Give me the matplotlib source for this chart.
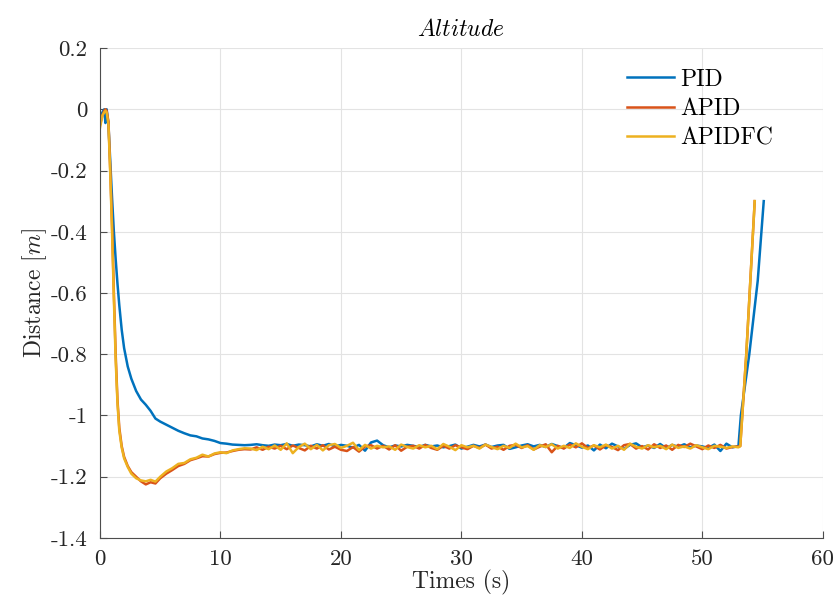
import numpy as np
import matplotlib
matplotlib.use("Agg")
import matplotlib.pyplot as plt
from matplotlib.ticker import FuncFormatter

plt.rcParams['font.family'] = ['cmr10', 'DejaVu Serif']
plt.rcParams['mathtext.fontset'] = 'cm'
plt.rcParams['axes.unicode_minus'] = False
plt.rcParams['axes.formatter.use_mathtext'] = True

# ---------------- data ----------------
# transient part (shared sample times)
t_head = [0, 0.2, 0.35, 0.45, 0.55, 0.7, 0.85, 1.0, 1.15, 1.3, 1.45, 1.6, 1.8,
          2.0, 2.3, 2.6, 3.0, 3.4, 3.8, 4.2, 4.6, 5.0, 5.5, 6.0, 6.5, 7.0,
          7.5, 8.0, 8.5, 9.0, 9.5, 10.0, 10.5, 11.0, 11.5, 12.0]

pid_head = [-0.03, -0.01, 0.0, -0.045, 0.0, -0.05, -0.17, -0.29, -0.40, -0.49,
            -0.57, -0.64, -0.72, -0.78, -0.84, -0.88, -0.92, -0.948, -0.965,
            -0.985, -1.01, -1.02, -1.03, -1.04, -1.05, -1.058, -1.065, -1.068,
            -1.075, -1.078, -1.083, -1.09, -1.092, -1.095, -1.096, -1.097]

apid_head = [-0.05, -0.02, -0.005, 0.0, -0.005, -0.04, -0.20, -0.38, -0.60, -0.80,
             -0.95, -1.04, -1.10, -1.135, -1.165, -1.185, -1.20, -1.215, -1.225,
             -1.218, -1.222, -1.205, -1.19, -1.178, -1.165, -1.158, -1.146, -1.14,
             -1.133, -1.134, -1.126, -1.122, -1.121, -1.116, -1.112, -1.11]

apidfc_head = [-0.06, -0.02, -0.01, -0.005, -0.01, -0.05, -0.21, -0.40, -0.62, -0.82,
               -0.96, -1.05, -1.105, -1.14, -1.168, -1.19, -1.205, -1.212, -1.215,
               -1.21, -1.216, -1.20, -1.183, -1.172, -1.158, -1.155, -1.143, -1.138,
               -1.128, -1.134, -1.124, -1.12, -1.123, -1.114, -1.11, -1.107]

# steady part: samples every 0.5 s from 12.5 s to 53.0 s
t_plateau = np.arange(12.5, 53.01, 0.5)

pid_plateau = [
    -1.096, -1.094, -1.097, -1.099, -1.095, -1.097, -1.093, -1.099, -1.095, -1.097,
    -1.101, -1.094, -1.099, -1.093, -1.101, -1.096, -1.099, -1.105, -1.096, -1.115,
    -1.088, -1.082, -1.097, -1.104, -1.098, -1.101, -1.096, -1.099, -1.103, -1.096,
    -1.101, -1.098, -1.104, -1.100, -1.095, -1.108, -1.102, -1.096, -1.101, -1.095,
    -1.103, -1.098, -1.096, -1.109, -1.104, -1.098, -1.094, -1.101, -1.096, -1.103,
    -1.093, -1.100, -1.106, -1.090, -1.097, -1.105, -1.098, -1.114, -1.095, -1.107,
    -1.092, -1.101, -1.109, -1.096, -1.091, -1.104, -1.098, -1.106, -1.093, -1.107,
    -1.096, -1.102, -1.094, -1.104, -1.098, -1.101, -1.106, -1.095, -1.116, -1.092,
    -1.104, -1.100]

apid_plateau = [
    -1.111, -1.104, -1.112, -1.102, -1.108, -1.099, -1.110, -1.098, -1.106, -1.114,
    -1.099, -1.108, -1.097, -1.111, -1.102, -1.112, -1.116, -1.103, -1.118, -1.101,
    -1.097, -1.108, -1.099, -1.111, -1.097, -1.115, -1.102, -1.099, -1.108, -1.096,
    -1.106, -1.112, -1.099, -1.108, -1.097, -1.104, -1.110, -1.099, -1.106, -1.095,
    -1.108, -1.102, -1.112, -1.099, -1.096, -1.106, -1.097, -1.111, -1.102, -1.094,
    -1.120, -1.099, -1.108, -1.095, -1.104, -1.091, -1.106, -1.098, -1.111, -1.097,
    -1.103, -1.113, -1.097, -1.093, -1.108, -1.100, -1.111, -1.094, -1.106, -1.098,
    -1.112, -1.096, -1.103, -1.092, -1.101, -1.110, -1.098, -1.106, -1.096, -1.108,
    -1.103, -1.101]

apidfc_plateau = [
    -1.108, -1.113, -1.102, -1.110, -1.098, -1.112, -1.091, -1.123, -1.103, -1.092,
    -1.110, -1.096, -1.114, -1.097, -1.093, -1.106, -1.099, -1.089, -1.113, -1.096,
    -1.108, -1.099, -1.104, -1.101, -1.112, -1.095, -1.103, -1.108, -1.097, -1.104,
    -1.099, -1.110, -1.093, -1.102, -1.113, -1.097, -1.104, -1.099, -1.108, -1.095,
    -1.103, -1.110, -1.099, -1.106, -1.092, -1.104, -1.100, -1.112, -1.097, -1.103,
    -1.094, -1.108, -1.099, -1.106, -1.091, -1.102, -1.110, -1.097, -1.104, -1.095,
    -1.108, -1.099, -1.112, -1.092, -1.102, -1.108, -1.097, -1.104, -1.099, -1.110,
    -1.095, -1.106, -1.101, -1.108, -1.097, -1.104, -1.110, -1.099, -1.102, -1.106,
    -1.101, -1.104]

# final climb
t_pid_tail = [53.2, 53.9, 54.6, 55.1]
pid_tail = [-1.00, -0.80, -0.56, -0.30]
t_apid_tail = [53.15, 53.65, 54.35]
apid_tail = [-1.10, -0.80, -0.30]
t_apidfc_tail = [53.15, 53.65, 54.35]
apidfc_tail = [-1.10, -0.80, -0.30]

labels = ['PID', 'APID', 'APIDFC']
colors = ['#0072BD', '#D95319', '#EDB120']
xticks = [0, 10, 20, 30, 40, 50, 60]
yticks = [0.2, 0, -0.2, -0.4, -0.6, -0.8, -1, -1.2, -1.4]

t_pid = np.concatenate([t_head, t_plateau, t_pid_tail])
y_pid = np.concatenate([pid_head, pid_plateau, pid_tail])
t_apid = np.concatenate([t_head, t_plateau, t_apid_tail])
y_apid = np.concatenate([apid_head, apid_plateau, apid_tail])
t_apidfc = np.concatenate([t_head, t_plateau, t_apidfc_tail])
y_apidfc = np.concatenate([apidfc_head, apidfc_plateau, apidfc_tail])

# ---------------- figure ----------------
fig = plt.figure(figsize=(8.37, 6.04), dpi=100)
ax = fig.add_axes([0.1195, 0.1093, 0.8635, 0.8112])

for (tt, yy), lab, col in zip([(t_pid, y_pid), (t_apid, y_apid), (t_apidfc, y_apidfc)],
                              labels, colors):
    ax.plot(tt, yy, color=col, lw=1.8, label=lab)

ax.set_xlim(0, 60)
ax.set_ylim(-1.4, 0.2)
ax.set_xticks(xticks)
ax.set_yticks(yticks)
fmt = FuncFormatter(lambda v, p: ('%g' % round(v, 3)) if abs(v) > 1e-9 else '0')
ax.xaxis.set_major_formatter(fmt)
ax.yaxis.set_major_formatter(fmt)

ax.grid(True, color='#e3e3e3', lw=0.8)
ax.set_axisbelow(True)
for s in ['top', 'right']:
    ax.spines[s].set_visible(False)
for s in ['left', 'bottom']:
    ax.spines[s].set_color('#4d4d4d')
    ax.spines[s].set_linewidth(0.8)
ax.tick_params(direction='in', length=5, width=0.8, color='#4d4d4d',
               labelsize=16.5, labelcolor='#262626')
ax.tick_params(axis='y', pad=9)
ax.tick_params(axis='x', pad=8)

ax.set_xlabel('Times (s)', fontsize=17, color='#262626', labelpad=1)
ax.set_ylabel('Distance $[m]$', fontsize=17, color='#262626', labelpad=1)
ax.set_title('$Altitude$', fontsize=17, pad=9)

leg = ax.legend(loc='upper left', bbox_to_anchor=(0.729, 0.958), frameon=False,
                fontsize=17, handlelength=2.0, handletextpad=0.25,
                labelspacing=0.3, borderpad=0, borderaxespad=0)

fig.savefig('out.png', dpi=100)
